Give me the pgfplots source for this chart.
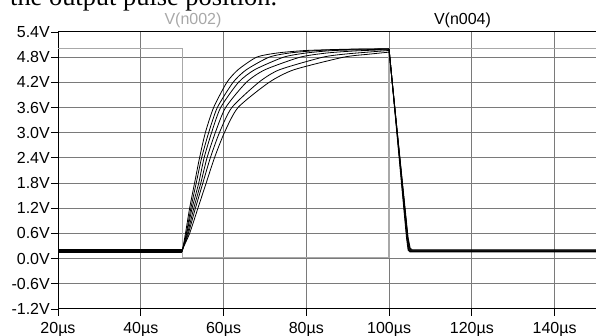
\documentclass[border=0pt]{standalone}
\usepackage{fontspec}
\setmainfont{Liberation Sans}
\newfontfamily\serifft{Liberation Serif}
\usepackage{pgfplots}
\pgfplotsset{compat=1.18}
\definecolor{gridc}{HTML}{7A7A7A}
\definecolor{inc}{HTML}{A8A8A8}
\begin{document}
\begin{tikzpicture}[x=1pt,y=1pt]
\useasboundingbox (-58,-27) rectangle (538,309);
\node[anchor=base west,inner sep=0,font=\serifft\fontsize{26.4}{30}\selectfont] at (-48,303) {the output pulse position.};
\node[anchor=base,inner sep=0,text=inc,font=\fontsize{16}{19}\selectfont] at (135,284) {V(n002)};
\node[anchor=base,inner sep=0,font=\fontsize{16}{19}\selectfont] at (404.5,284) {V(n004)};
\begin{axis}[
  at={(0,0)}, anchor=south west,
  scale only axis, width=542.14pt, height=277pt,
  xmin=20, xmax=151, ymin=-1.2, ymax=5.4,
  axis lines=box,
  axis line style={black, line width=1pt},
  xtick={20,40,60,80,100,120,140},
  xticklabels={20µs,40µs,60µs,80µs,100µs,120µs,140µs},
  ytick={-1.2,-0.6,0,0.6,1.2,1.8,2.4,3.0,3.6,4.2,4.8,5.4},
  yticklabels={-1.2V,-0.6V,0.0V,0.6V,1.2V,1.8V,2.4V,3.0V,3.6V,4.2V,4.8V,5.4V},
  xtick pos=left, ytick pos=left,
  tick align=outside,
  major tick length=7pt,
  tick style={black, line width=0.9pt},
  ticklabel style={font=\fontsize{16}{19}\selectfont},
  yticklabel style={inner sep=1pt},
  xticklabel style={inner sep=1pt, anchor=north, yshift=-5pt},
  grid=major,
  major grid style={gridc, line width=1pt},
  clip=true,
]
\addplot[inc, line width=1.2pt] coordinates {(20,5.0) (50,5.0) (50,0.02) (100,0.02) (100,5.0) (151,5.0)};
% six output traces: low level, rise, fall
\addplot[black, line width=0.8pt] coordinates {(20,0.16) (50,0.16)};
\addplot[black, line width=0.8pt, smooth, tension=0.4] coordinates {(50,0.16) (50.8,0.6) (51.8,1.2) (53.0,1.8) (54.2,2.4) (55.6,3.0) (57.6,3.6) (60.8,4.2) (63.5,4.5) (68,4.8) (73,4.9) (80,4.96) (90,4.99) (100,5.0)};
\addplot[black, line width=0.8pt] coordinates {(100,5.0) (104.2,0.5) (104.6,0.2) (105,0.16) (151,0.16)};
\addplot[black, line width=0.8pt] coordinates {(20,0.17) (50,0.17)};
\addplot[black, line width=0.8pt, smooth, tension=0.4] coordinates {(50,0.17) (51.0,0.6) (52.1,1.2) (53.4,1.8) (54.7,2.4) (56.4,3.0) (58.5,3.6) (62.3,4.2) (65.5,4.5) (71,4.8) (76,4.9) (83,4.96) (92,4.99) (100,5.0)};
\addplot[black, line width=0.8pt] coordinates {(100,5.0) (104.3,0.5) (104.7,0.21) (105.1,0.17) (151,0.17)};
\addplot[black, line width=0.8pt] coordinates {(20,0.18) (50,0.18)};
\addplot[black, line width=0.8pt, smooth, tension=0.4] coordinates {(50,0.18) (51.1,0.6) (52.4,1.2) (54.0,1.8) (55.3,2.4) (57.1,3.0) (59.3,3.6) (63.6,4.2) (67.5,4.5) (74.5,4.8) (80,4.9) (87,4.96) (100,4.99)};
\addplot[black, line width=0.8pt] coordinates {(100,4.99) (104.4,0.5) (104.8,0.22) (105.2,0.18) (151,0.18)};
\addplot[black, line width=0.8pt] coordinates {(20,0.19) (50,0.19)};
\addplot[black, line width=0.8pt, smooth, tension=0.4] coordinates {(50,0.19) (51.3,0.6) (52.8,1.2) (54.5,1.8) (56.0,2.4) (58.0,3.0) (60.5,3.6) (65.5,4.2) (70,4.5) (78.5,4.8) (85,4.9) (92,4.95) (100,4.98)};
\addplot[black, line width=0.8pt] coordinates {(100,4.98) (104.5,0.5) (104.9,0.23) (105.3,0.19) (151,0.19)};
\addplot[black, line width=0.8pt] coordinates {(20,0.2) (50,0.2)};
\addplot[black, line width=0.8pt, smooth, tension=0.4] coordinates {(50,0.2) (51.5,0.6) (53.2,1.2) (55.0,1.8) (56.8,2.4) (59.0,3.0) (62.0,3.6) (68.5,4.2) (73.5,4.5) (84,4.8) (90,4.88) (100,4.96)};
\addplot[black, line width=0.8pt] coordinates {(100,4.96) (104.5,0.5) (105.0,0.24) (105.4,0.2) (151,0.2)};
\addplot[black, line width=0.8pt] coordinates {(20,0.21) (50,0.21)};
\addplot[black, line width=0.8pt, smooth, tension=0.4] coordinates {(50,0.21) (51.8,0.6) (53.8,1.2) (55.8,1.8) (57.8,2.4) (60.2,3.0) (63.5,3.6) (71.0,4.2) (77,4.5) (89,4.8) (95,4.87) (100,4.92)};
\addplot[black, line width=0.8pt] coordinates {(100,4.92) (104.6,0.5) (105.1,0.25) (105.6,0.21) (151,0.21)};
\end{axis}
\end{tikzpicture}
\end{document}
